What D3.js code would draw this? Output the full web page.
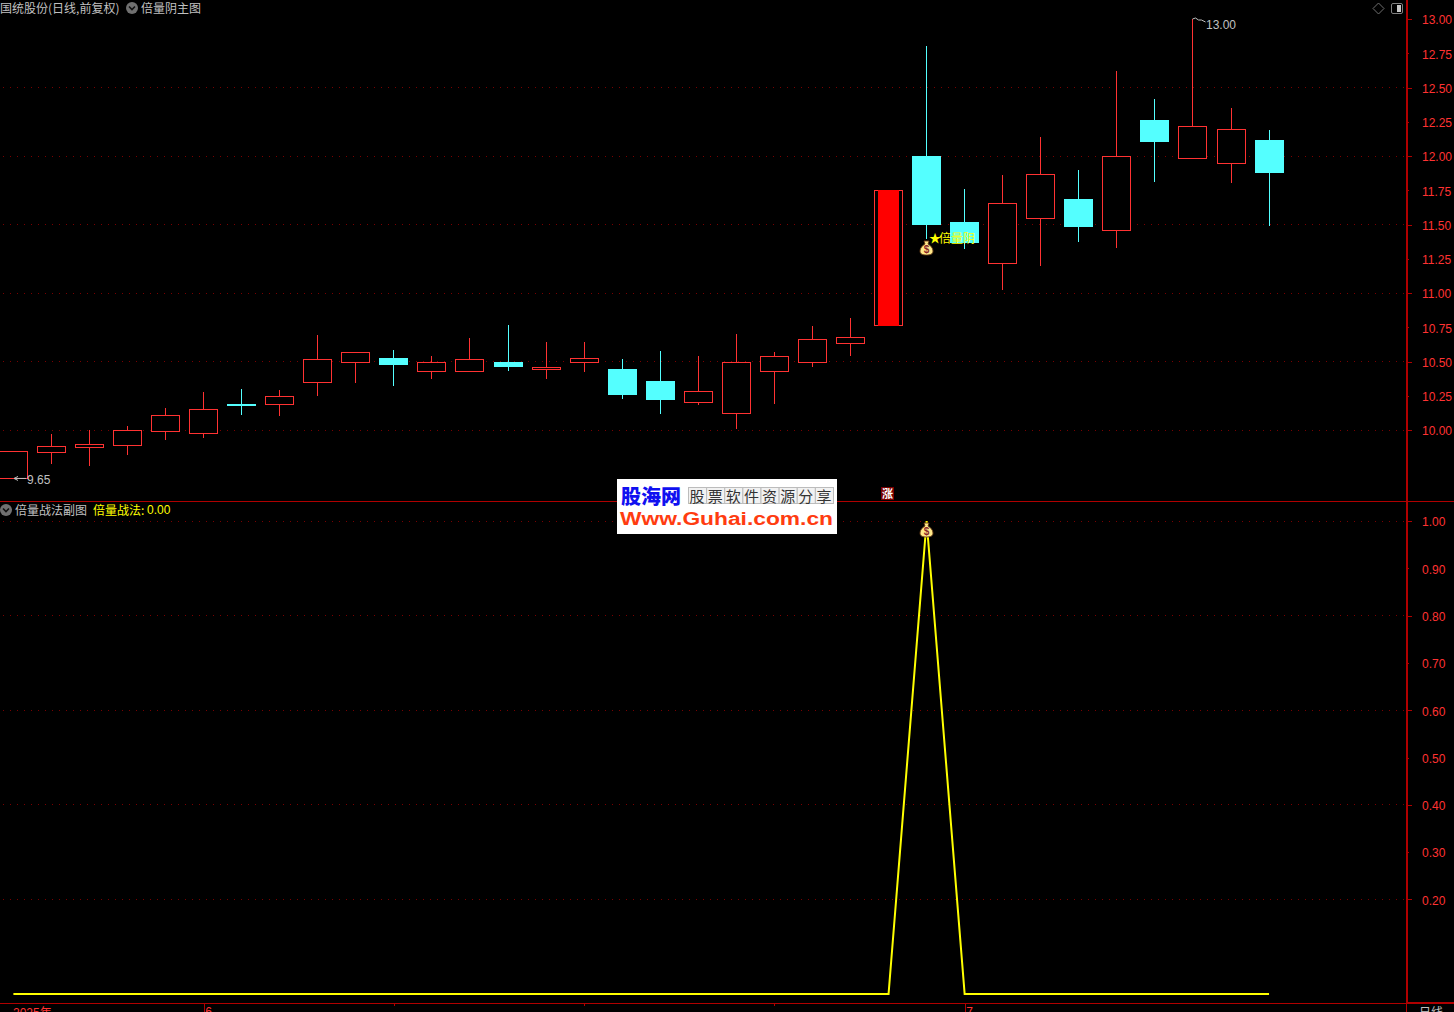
<!DOCTYPE html>
<html><head><meta charset="utf-8">
<script src="https://cdn.jsdelivr.net/npm/d3@7/dist/d3.min.js"></script>
<style>
html,body{margin:0;padding:0;background:#000;overflow:hidden}
svg{display:block;position:absolute;left:0;top:0}
text{font-family:"Liberation Sans","Noto Sans CJK SC",sans-serif;font-size:12px}
.cjk{font-family:"Noto Sans CJK SC",sans-serif}
</style></head><body>
<svg id="c" width="1454" height="1012"></svg>
<script>
const opens  = [9.650,9.839,9.876,9.891,9.993,9.978,10.190,10.190,10.350,10.496,10.526,10.431,10.431,10.496,10.445,10.496,10.445,10.358,10.204,10.124,10.431,10.496,10.635,10.766,12.000,11.518,11.219,11.547,11.686,11.460,12.263,11.985,11.949,12.117];
const closes = [9.847,9.883,9.898,10.000,10.109,10.153,10.175,10.248,10.518,10.569,10.474,10.496,10.518,10.460,10.460,10.526,10.255,10.219,10.285,10.496,10.540,10.664,10.679,11.752,11.496,11.365,11.657,11.869,11.482,12.000,12.102,12.219,12.197,11.876];
const highs  = [9.847,9.971,10.000,10.029,10.161,10.277,10.299,10.292,10.693,10.569,10.584,10.540,10.672,10.766,10.642,10.642,10.518,10.577,10.540,10.701,10.569,10.759,10.818,11.752,12.803,11.759,11.861,12.139,11.898,12.620,12.416,13.000,12.350,12.190];
const lows   = [9.650,9.759,9.745,9.825,9.934,9.949,10.117,10.109,10.255,10.350,10.328,10.380,10.431,10.438,10.380,10.431,10.234,10.124,10.190,10.015,10.197,10.467,10.547,10.766,11.401,11.328,11.029,11.204,11.380,11.336,11.818,11.985,11.810,11.496];
const signal = opens.map((_,i)=> i===24 ? 1 : 0);
const priceTicks = [13,12.75,12.5,12.25,12,11.75,11.5,11.25,11,10.75,10.5,10.25,10];
const priceGrid  = [12.5,12,11.5,11,10.5,10];
const subTicks = [1,.9,.8,.7,.6,.5,.4,.3,.2];
const subGrid  = [1,.8,.6,.4,.2];
const dateTicks = [5,10,15,20,25];
const dateLabels = {5:"6",25:"7"};
const logoCells = ["股","票","软","件","资","源","分","享"];

const RED="#ff3232", AXIS="#b00000", CYAN="#54ffff", GREY="#c0c0c0", YEL="#ffff00", GRID="#7a0000";
const svg=d3.select("#c");
const x=d3.scaleLinear().domain([0,33]).range([13.4,1269.05]);
const y=d3.scaleLinear().domain([10,13]).range([430,19]);
const ys=d3.scaleLinear().domain([0,1]).range([994,521]);
const px=v=>Math.floor(v)+.5;

svg.append("rect").attr("width",1454).attr("height",1012).attr("fill","#000");

// grid
function grid(vals,sc){
  svg.append("g").selectAll("line").data(vals).join("line")
    .attr("x1",3).attr("x2",1406).attr("y1",d=>px(sc(d))).attr("y2",d=>px(sc(d)))
    .attr("stroke",GRID).attr("stroke-dasharray","1 6");
}
grid(priceGrid,y); grid(subGrid,ys);

// candles
const idx=d3.range(opens.length);
const cg=svg.append("g").attr("shape-rendering","crispEdges");
const cols=i=>closes[i]<opens[i]?CYAN:RED;
const bodyTop=i=>Math.round(y(Math.max(opens[i],closes[i])));
const bodyBot=i=>Math.round(y(Math.min(opens[i],closes[i])));
cg.selectAll("line.w").data(idx).join("line").attr("class","w")
  .attr("x1",i=>px(x(i))).attr("x2",i=>px(x(i)))
  .attr("y1",i=>Math.round(y(highs[i]))).attr("y2",i=>Math.round(y(lows[i]))+1)
  .attr("stroke",cols);
cg.selectAll("rect.b").data(idx).join("rect").attr("class","b")
  .attr("x",i=>Math.floor(x(i))-14+(cols(i)===CYAN?0:.5))
  .attr("width",i=>cols(i)===CYAN?29:28)
  .attr("y",i=>cols(i)===CYAN?bodyTop(i):bodyTop(i)+.5)
  .attr("height",i=>bodyBot(i)-bodyTop(i))
  .attr("fill",i=>cols(i)===CYAN?CYAN:"#000")
  .attr("stroke",i=>cols(i)===CYAN?"none":RED);
// signal candle solid core
const big=signal.indexOf(1)-1;
cg.append("rect").attr("x",Math.floor(x(big))-10).attr("width",21)
  .attr("y",bodyTop(big)).attr("height",bodyBot(big)-bodyTop(big)+1)
  .attr("fill","#ff0000");

// axis separators
const sep=svg.append("g").attr("shape-rendering","crispEdges");
sep.append("line").attr("x1",0).attr("x2",1454).attr("y1",501.5).attr("y2",501.5).attr("stroke",AXIS);
sep.append("line").attr("x1",0).attr("x2",1406).attr("y1",1003.5).attr("y2",1003.5).attr("stroke",AXIS);
sep.append("line").attr("x1",1407).attr("x2",1454).attr("y1",1003).attr("y2",1003).attr("stroke",AXIS).attr("stroke-width",2);
sep.append("line").attr("x1",1407).attr("x2",1407).attr("y1",0).attr("y2",1003).attr("stroke",AXIS).attr("stroke-width",2);
sep.append("line").attr("x1",1406.5).attr("x2",1406.5).attr("y1",1003).attr("y2",1012).attr("stroke",AXIS);

// value axes
function valueAxis(sc,ticks,majors,dy){
  const g=svg.append("g").attr("transform","translate(1407,0)")
    .call(d3.axisRight(sc).tickValues(ticks).tickSize(5).tickPadding(10).tickFormat(d3.format(".2f")));
  g.select(".domain").remove();
  g.selectAll("line").attr("stroke",AXIS).attr("shape-rendering","crispEdges")
    .attr("x2",d=>majors.includes(d)?5:2);
  g.selectAll("text").attr("fill",RED).attr("x",15).attr("y",dy).attr("font-family",'"Liberation Sans"').attr("font-size",12);
}
valueAxis(y,priceTicks,[13,...priceGrid],1);
valueAxis(ys,subTicks,subGrid,1);

// date axis
const dg=svg.append("g").attr("transform","translate(0,1003)")
  .call(d3.axisBottom(x).tickValues(dateTicks).tickSize(9).tickPadding(-5).tickFormat(d=>dateLabels[d]||""));
dg.select(".domain").remove();
dg.selectAll("line").attr("stroke",AXIS).attr("shape-rendering","crispEdges").attr("y2",d=>dateLabels[d]?9:3);
dg.selectAll("text").attr("fill",RED).attr("text-anchor","start").attr("dx",1).attr("font-family",'"Liberation Sans"').attr("font-size",12);
svg.append("text").attr("x",13).attr("y",1017).attr("fill",RED).text("2025年");
svg.append("text").attr("x",1419).attr("y",1017).attr("fill",GREY).attr("class","cjk").text("日线");

// yellow line
svg.append("path").datum(idx).attr("fill","none").attr("stroke",YEL).attr("stroke-width",2)
  .attr("d",d3.line().x(i=>x(i)).y(i=>ys(signal[i])));

// headers
function label(tx,ty,s,fill,cls){
  return svg.append("text").attr("x",tx).attr("y",ty).attr("fill",fill).attr("class",cls||"cjk").text(s);
}
label(0,13,"国统股份(日线,前复权)",GREY);
label(141,13,"倍量阴主图",GREY);
label(15,515,"倍量战法副图",GREY);
label(93,515,"倍量战法:",YEL);
label(147,514,"0.00",YEL,"num");
// chevrons
function chevron(cx,cy){
  const g=svg.append("g").attr("transform",`translate(${cx},${cy})`);
  g.append("circle").attr("r",6).attr("fill","#707070");
  g.append("path").attr("d","M-3,-1.5 L0,1.5 L3,-1.5").attr("fill","none").attr("stroke","#111").attr("stroke-width",1.6);
}
chevron(132,8); chevron(6,510);
// top-right icons
svg.append("path").attr("d","M1378.5,3 L1384,8.5 L1378.5,14 L1373,8.5 Z").attr("fill","none").attr("stroke","#707070");
svg.append("rect").attr("x",1391.5).attr("y",3.5).attr("width",11).attr("height",10).attr("rx",1.5).attr("fill","#000").attr("stroke","#808080");
svg.append("rect").attr("x",1397).attr("y",5).attr("width",4).attr("height",7).attr("fill","#c8c8c8");

// price annotations
const ann=svg.append("g");
ann.append("path").attr("d",`M14,${y(9.65)+.5} H26 M14,${y(9.65)+.5} l4,-2 M14,${y(9.65)+.5} l4,2`).attr("stroke",GREY).attr("fill","none");
ann.append("text").attr("x",27).attr("y",484).attr("fill",GREY).text("9.65");
ann.append("path").attr("d",`M${px(x(31))},19 l3,-1 l3,2 l3,0 l4,2`).attr("stroke",GREY).attr("fill","none");
ann.append("text").attr("x",1206).attr("y",29).attr("fill",GREY).text("13.00");

// money bags
function bag(cx,cy){
  const g=svg.append("g").attr("transform",`translate(${cx},${cy})`);
  g.append("path").attr("d","M-2.5,-7 H2.5 L1.5,-4 C4,-2.5 6.5,0 6.5,3 C6.5,6 4,7 0,7 C-4,7 -6.5,6 -6.5,3 C-6.5,0 -4,-2.5 -1.5,-4 Z")
    .attr("fill","#ffe98a").attr("stroke","#6b3d18").attr("stroke-width",.9);
  g.append("text").attr("text-anchor","middle").attr("y",5).attr("fill","#8a2a2a")
    .attr("style","font-size:10px;font-weight:bold").text("$");
}
bag(px(x(24)),248); bag(px(x(24)),530);

// signal label (single text, star tucked against the glyphs)
const sig=svg.append("text").attr("x",929).attr("y",243).attr("fill",YEL).attr("class","cjk");
sig.append("tspan").text("★");
sig.append("tspan").attr("dx",-2).text("倍量阴");

// 涨 badge
svg.append("rect").attr("x",881).attr("y",487).attr("width",13).attr("height",13).attr("fill","#7a0000");
svg.append("text").attr("x",887.5).attr("y",498).attr("text-anchor","middle").attr("fill","#fff")
  .attr("class","cjk").attr("style","font-size:11px;font-weight:bold").text("涨");

// logo
const lg=svg.append("g");
lg.append("rect").attr("x",617).attr("y",479).attr("width",220).attr("height",55).attr("fill","#fff");
lg.append("text").attr("x",621).attr("y",504).attr("fill","#1010f0").attr("class","cjk")
  .attr("style","font-size:20px;font-weight:900").text("股海网");
const cell=d3.scaleBand().domain(d3.range(logoCells.length)).range([688,833]);
lg.selectAll("rect.cell").data(logoCells).join("rect").attr("class","cell")
  .attr("x",(d,i)=>cell(i)+.5).attr("y",487.5).attr("width",cell.bandwidth()).attr("height",16)
  .attr("fill","#f2f2f2").attr("stroke","#bcbcbc");
lg.selectAll("text.cell").data(logoCells).join("text").attr("class","cell")
  .attr("x",(d,i)=>cell(i)+cell.bandwidth()/2).attr("y",502).attr("text-anchor","middle")
  .attr("fill","#333").attr("style",'font-family:"Noto Sans CJK SC";font-size:15px').text(d=>d);
lg.append("text").attr("x",620).attr("y",525).attr("fill","#ff3c10").attr("textLength",213).attr("lengthAdjust","spacingAndGlyphs")
  .attr("style",'font-family:"Liberation Sans";font-size:18px;font-weight:bold').text("Www.Guhai.com.cn");
</script>
</body></html>
